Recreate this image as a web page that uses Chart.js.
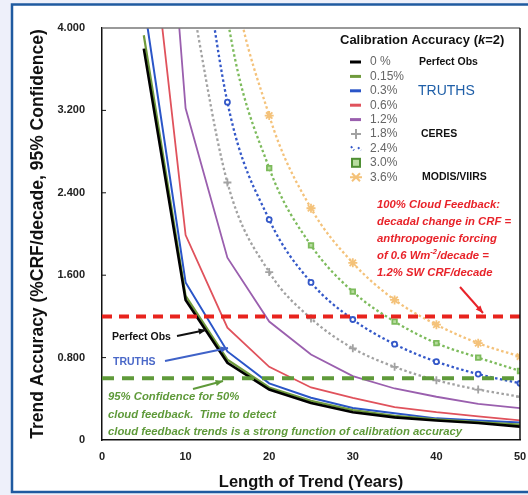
<!DOCTYPE html>
<html>
<head>
<meta charset="utf-8">
<script src="https://cdn.jsdelivr.net/npm/chart.js@4/dist/chart.umd.min.js"></script>
<style>
  html, body { margin: 0; padding: 0; background: #eef0fa; }
  #wrap { width: 528px; height: 495px; }
</style>
</head>
<body>
<div id="wrap"><canvas id="grafico"></canvas></div>
<script>
const FONT = "'Liberation Sans', Arial, sans-serif";

// anos do trend
const years = [5, 10, 15, 20, 25, 30, 35, 40, 45, 50];

// precisao do trend (%CRF/decade) por calibracao
const acc0 = [3.80, 1.36, 0.75, 0.49, 0.36, 0.27, 0.22, 0.19, 0.165, 0.13];
const acc015 = [3.93, 1.40, 0.78, 0.51, 0.38, 0.29, 0.235, 0.20, 0.175, 0.15];
const acc03 = [4.25, 1.53, 0.86, 0.55, 0.41, 0.31, 0.26, 0.21, 0.19, 0.17];
const acc06 = [5.6, 1.99, 1.09, 0.71, 0.51, 0.41, 0.32, 0.27, 0.23, 0.19];
const acc12 = [8.4, 3.22, 1.77, 1.15, 0.83, 0.62, 0.50, 0.42, 0.35, 0.31];
const acc18 = [null, 4.6, 2.50, 1.63, 1.18, 0.89, 0.71, 0.58, 0.49, 0.42];
const acc24 = [null, 6.0, 3.28, 2.14, 1.53, 1.17, 0.93, 0.76, 0.64, 0.55];
const acc30 = [null, 7.6, 4.10, 2.64, 1.89, 1.44, 1.15, 0.94, 0.80, 0.67];
const acc36 = [null, 8.9, 4.85, 3.15, 2.25, 1.72, 1.36, 1.12, 0.94, 0.81];

const legendLabels = ["0 %", "0.15%", "0.3%", "0.6%", "1.2%", "1.8%", "2.4%", "3.0%", "3.6%"];

// linhas de referencia
const cloudFeedback100 = 1.2;
const cloudFeedback50 = 0.6;
const xRange = [0, 50];
const yTicks = [0, 0.8, 1.6, 2.4, 3.2, 4.0];

function pontos(vals) {
  return years.map((x, i) => ({ x, y: vals[i] })).filter(p => p.y !== null);
}

function solida(label, vals, color, w) {
  return { label, data: pontos(vals), borderColor: color, backgroundColor: color,
    borderWidth: w, pointRadius: 0, order: 2 };
}

function pontilhada(label, vals, color, style, fill, r) {
  return { label, data: pontos(vals), borderColor: color, backgroundColor: fill,
    borderWidth: 2.3, borderDash: [2.5, 2.5], cubicInterpolationMode: 'monotone',
    pointStyle: style, pointRadius: r, pointBorderWidth: 1.8, pointBorderColor: color,
    pointBackgroundColor: fill, order: 2 };
}

const datasets = [
  solida("0 %", acc0, "#000000", 2.6),
  solida("0.15%", acc015, "#6f9a3c", 2.2),
  solida("0.3%", acc03, "#2a55c8", 2),
  solida("0.6%", acc06, "#e0525c", 1.8),
  solida("1.2%", acc12, "#9a5fae", 1.8),
  pontilhada("1.8%", acc18, "#a2a2a2", "cross", "#a2a2a2", 4),
  pontilhada("2.4%", acc24, "#3458c8", "circle", "#ffffff", 2.5),
  pontilhada("3.0%", acc30, "#7dbb5c", "rect", "#b8dca0", 3.2),
  pontilhada("3.6%", acc36, "#f4c27a", "star", "#f4c27a", 4.5),
  { label: "100%", data: xRange.map(x => ({ x, y: cloudFeedback100 })), borderColor: "#e8231d",
    borderWidth: 4, borderDash: [10, 7], pointRadius: 0, order: 0, clip: false },
  { label: "50%", data: xRange.map(x => ({ x, y: cloudFeedback50 })), borderColor: "#5f9a3a",
    borderWidth: 4, borderDash: [12, 8], pointRadius: 0, order: 0, clip: false }
];

function seta(ctx, x1, y1, x2, y2, color) {
  ctx.save();
  ctx.strokeStyle = color;
  ctx.fillStyle = color;
  ctx.lineWidth = 2;
  ctx.beginPath();
  ctx.moveTo(x1, y1);
  ctx.lineTo(x2, y2);
  ctx.stroke();
  const a = Math.atan2(y2 - y1, x2 - x1);
  ctx.beginPath();
  ctx.moveTo(x2, y2);
  ctx.lineTo(x2 - 8 * Math.cos(a - 0.4), y2 - 8 * Math.sin(a - 0.4));
  ctx.lineTo(x2 - 8 * Math.cos(a + 0.4), y2 - 8 * Math.sin(a + 0.4));
  ctx.closePath();
  ctx.fill();
  ctx.restore();
}

const moldura = {
  id: 'moldura',
  beforeDraw(chart) {
    const ctx = chart.ctx;
    ctx.save();
    ctx.fillStyle = "#eef0fa";
    ctx.fillRect(0, 0, chart.width, chart.height);
    ctx.fillStyle = "#ffffff";
    ctx.fillRect(13, 5, chart.width - 13, 486);
    ctx.strokeStyle = "#1f5aa0";
    ctx.lineWidth = 2.5;
    ctx.beginPath();
    ctx.moveTo(chart.width, 4.5);
    ctx.lineTo(12, 4.5);
    ctx.lineTo(12, 492);
    ctx.lineTo(chart.width, 492);
    ctx.stroke();
    ctx.restore();
  },
  afterDraw(chart) {
    const ctx = chart.ctx;
    const a = chart.chartArea;
    const ys = chart.scales.y;
    ctx.save();
    // borda do grafico
    ctx.lineWidth = 1.5;
    ctx.strokeStyle = "#777";
    ctx.beginPath();
    ctx.moveTo(a.left, a.top);
    ctx.lineTo(a.right, a.top);
    ctx.stroke();
    ctx.strokeStyle = "#111";
    ctx.beginPath();
    ctx.moveTo(a.right, a.top);
    ctx.lineTo(a.right, a.bottom);
    ctx.stroke();
    ctx.lineWidth = 1;
    yTicks.slice(1, -1).forEach(v => {
      const y = ys.getPixelForValue(v);
      ctx.beginPath();
      ctx.moveTo(a.left, y);
      ctx.lineTo(a.left + 4, y);
      ctx.stroke();
    });

    // legenda
    ctx.textBaseline = "middle";
    ctx.fillStyle = "#111";
    ctx.font = "bold 13px " + FONT;
    ctx.fillText("Calibration Accuracy (", 340, 40);
    let w = ctx.measureText("Calibration Accuracy (").width;
    ctx.font = "italic bold 13px " + FONT;
    ctx.fillText("k", 340 + w, 40);
    w += ctx.measureText("k").width;
    ctx.font = "bold 13px " + FONT;
    ctx.fillText("=2)", 340 + w, 40);

    legendLabels.forEach((lab, i) => {
      const y = 62 + i * 14.4;
      const ds = datasets[i];
      ctx.save();
      ctx.strokeStyle = ds.borderColor;
      ctx.fillStyle = ds.borderColor;
      if (i < 5) {
        ctx.lineWidth = 3;
        ctx.beginPath();
        ctx.moveTo(350, y);
        ctx.lineTo(361, y);
        ctx.stroke();
      } else if (i === 5) {
        ctx.lineWidth = 2;
        ctx.beginPath();
        ctx.moveTo(351, y); ctx.lineTo(361, y);
        ctx.moveTo(356, y - 5); ctx.lineTo(356, y + 5);
        ctx.stroke();
      } else if (i === 6) {
        ctx.lineWidth = 2;
        ctx.setLineDash([2, 2]);
        ctx.beginPath();
        ctx.moveTo(351, y - 2); ctx.lineTo(354, y + 2);
        ctx.moveTo(358, y - 1); ctx.lineTo(361, y + 2);
        ctx.stroke();
      } else if (i === 7) {
        ctx.lineWidth = 2;
        ctx.fillStyle = "#b8dca0";
        ctx.strokeStyle = "#4f8f34";
        ctx.fillRect(352, y - 4, 8, 8);
        ctx.strokeRect(352, y - 4, 8, 8);
      } else {
        ctx.lineWidth = 2;
        ctx.beginPath();
        ctx.moveTo(350, y); ctx.lineTo(362, y);
        ctx.moveTo(352, y - 4); ctx.lineTo(360, y + 4);
        ctx.moveTo(352, y + 4); ctx.lineTo(360, y - 4);
        ctx.stroke();
      }
      ctx.restore();
      ctx.fillStyle = "#666";
      ctx.font = "12px " + FONT;
      ctx.fillText(lab, 370, y);
    });
    ctx.fillStyle = "#111";
    ctx.font = "bold 10.5px " + FONT;
    ctx.fillText("Perfect Obs", 419, 62);
    ctx.fillText("CERES", 421, 134);
    ctx.fillText("MODIS/VIIRS", 422, 177);
    ctx.fillStyle = "#1f5fa8";
    ctx.font = "14px " + FONT;
    ctx.fillText("TRUTHS", 418, 91);

    // texto vermelho
    ctx.fillStyle = "#e8232a";
    ctx.font = "italic bold 11.3px " + FONT;
    ctx.fillText("100% Cloud Feedback:", 377, 205);
    ctx.fillText("decadal change in CRF =", 377, 222);
    ctx.fillText("anthropogenic forcing", 377, 239);
    ctx.fillText("of 0.6 Wm", 377, 256);
    let wx = 377 + ctx.measureText("of 0.6 Wm").width;
    ctx.font = "italic bold 7.5px " + FONT;
    ctx.fillText("-2", wx, 252);
    wx += ctx.measureText("-2").width;
    ctx.font = "italic bold 11.3px " + FONT;
    ctx.fillText("/decade =", wx, 256);
    ctx.fillText("1.2% SW CRF/decade", 377, 273);
    seta(ctx, 460, 287, 483, 313, "#e8232a");

    // rotulos das curvas
    ctx.fillStyle = "#111";
    ctx.font = "bold 10.5px " + FONT;
    ctx.fillText("Perfect Obs", 112, 337);
    seta(ctx, 177, 336, 206, 330, "#111");
    ctx.fillStyle = "#4a68c8";
    ctx.fillText("TRUTHS", 113, 362);
    seta(ctx, 165, 361, 228, 348, "#3f62c8");

    // texto verde
    ctx.fillStyle = "#5f9a3a";
    ctx.font = "italic bold 11.3px " + FONT;
    ctx.fillText("95% Confidence for 50%", 108, 397);
    ctx.fillText("cloud feedback.  Time to detect", 108, 415);
    ctx.fillText("cloud feedback trends is a strong function of calibration accuracy", 108, 432);
    seta(ctx, 193, 389, 223, 381, "#5f9a3a");
    ctx.restore();
  }
};

new Chart(document.getElementById("grafico").getContext("2d"), {
  type: 'line',
  data: { datasets },
  plugins: [moldura],
  options: {
    responsive: true,
    maintainAspectRatio: false,
    animation: false,
    layout: { padding: { left: 0, right: 0, top: 28, bottom: 0 } },
    plugins: { legend: { display: false }, tooltip: { enabled: false } },
    scales: {
      x: {
        type: 'linear', min: xRange[0], max: xRange[1],
        afterFit(s) { s.height = 55; s.paddingRight = 8; },
        grid: { display: false, drawTicks: false },
        border: { color: "#111", width: 1.5 },
        ticks: { stepSize: 10, padding: 10, color: "#222", font: { family: FONT, size: 11, weight: 'bold' } },
        title: { display: true, text: "Length of Trend (Years)", color: "#111", padding: { top: 3, bottom: 3 },
          font: { family: FONT, size: 16.5, weight: 'bold' } }
      },
      y: {
        min: 0, max: 4,
        afterFit(s) { s.width = 102; },
        afterBuildTicks(s) { s.ticks = yTicks.map(v => ({ value: v })); },
        grid: { display: false, drawTicks: false },
        border: { color: "#111", width: 1.5 },
        ticks: { padding: 17, color: "#222", font: { family: FONT, size: 11, weight: 'bold' },
          callback: v => v === 0 ? '0' : v.toFixed(3) },
        title: { display: true, text: "Trend Accuracy (%CRF/decade, 95% Confidence)", color: "#111",
          padding: { top: 28, bottom: 0 }, font: { family: FONT, size: 17.5, weight: 'bold' } }
      }
    }
  }
});
</script>
</body>
</html>
